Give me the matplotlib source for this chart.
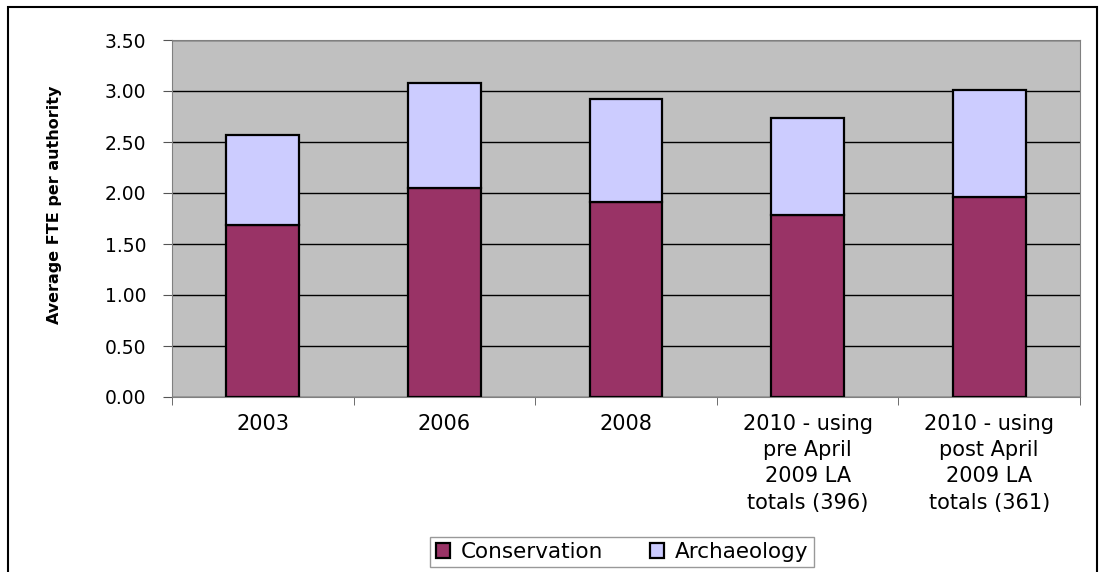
import matplotlib.pyplot as plt
import numpy as np
from matplotlib.patches import Rectangle

# Chart data
categories = ['2003', '2006', '2008',
              '2010 - using\npre April\n2009 LA\ntotals (396)',
              '2010 - using\npost April\n2009 LA\ntotals (361)']
conservation = [1.69, 2.05, 1.91, 1.78, 1.96]
archaeology = [0.88, 1.03, 1.01, 0.96, 1.05]
y_ticks = [0.0, 0.5, 1.0, 1.5, 2.0, 2.5, 3.0, 3.5]

plt.rcParams['font.family'] = ['DejaVu Sans']

fig = plt.figure(figsize=(11.06, 5.72), dpi=100)
ax = fig.add_axes([172 / 1106, 1 - 397 / 572, 908 / 1106, 357 / 572])

x = np.arange(len(categories))
width = 0.40
ax.bar(x, conservation, width, color='#993366', edgecolor='black', linewidth=1.6,
       label='Conservation', zorder=3)
ax.bar(x, archaeology, width, bottom=conservation, color='#CCCCFF', edgecolor='black',
       linewidth=1.6, label='Archaeology', zorder=3)

ax.set_facecolor('#C0C0C0')
ax.set_xlim(-0.5, len(categories) - 0.5)
ax.set_ylim(0, 3.5)
ax.set_yticks(y_ticks)
ax.set_yticklabels([f'{v:.2f}' for v in y_ticks], fontsize=13.5)
ax.yaxis.grid(True, color='black', linewidth=1.0, zorder=1)

# category labels centred, tick marks between categories
ax.set_xticks(x)
ax.set_xticklabels(categories, fontsize=15, linespacing=1.4)
ax.tick_params(axis='x', length=0, pad=12)
ax.set_xticks(np.arange(-0.5, len(categories), 1.0), minor=True)
ax.tick_params(axis='x', which='minor', length=6, color='#555555')
ax.tick_params(axis='y', length=6.5, color='#555555', pad=12)

for s in ax.spines.values():
    s.set_color('#808080')

ax.set_ylabel('Average FTE per authority', fontsize=11.5, fontweight='bold')
ax.yaxis.set_label_coords(-0.121, 0.538)

leg = fig.legend(loc='center', bbox_to_anchor=(622 / 1106, 1 - 552 / 572), ncol=2,
                 fontsize=15.5, frameon=True, fancybox=False, edgecolor='#808080',
                 handlelength=0.65, handleheight=0.65, handletextpad=0.5,
                 columnspacing=2.2, borderpad=0.25, borderaxespad=0)
leg.get_frame().set_linewidth(1.0)

# outer chart border
fig.patches.append(Rectangle((8 / 1106, -0.05), 1089 / 1106, 1.05 - 7 / 572,
                             transform=fig.transFigure, fill=False,
                             edgecolor='black', linewidth=1.5))

fig.savefig('out.png', dpi=100)
